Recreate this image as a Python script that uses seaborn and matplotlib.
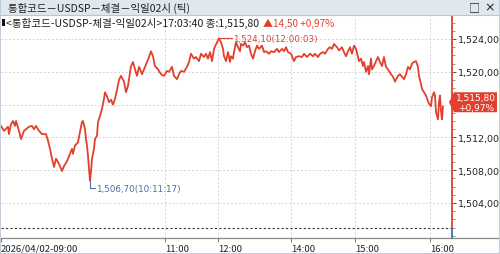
import numpy as np
import matplotlib
matplotlib.use("Agg")
import matplotlib.pyplot as plt
import seaborn as sns
from matplotlib.patches import Rectangle, Polygon
from matplotlib.lines import Line2D
from matplotlib.ticker import FixedLocator, MultipleLocator, FuncFormatter

# ---------------- data ----------------
tick_idx = [0, 3, 7, 8, 10, 12, 14, 15, 18, 20, 23, 25, 28, 31, 33, 35, 38, 41, 45, 47,
            49, 51, 53, 55, 57, 59, 61, 63, 66, 69, 71, 72, 74, 77, 79, 81, 82, 84, 85, 86,
            87, 88, 89, 90, 91, 93, 94, 96, 97, 99, 101, 103, 104, 106, 108, 110, 112, 114, 116, 118,
            120, 123, 125, 127, 130, 132, 134, 136, 138, 141, 143, 146, 148, 150, 152, 154, 157, 160, 163, 166,
            168, 171, 173, 176, 178, 180, 183, 186, 188, 190, 193, 195, 198, 200, 203, 205, 207, 209, 211, 213,
            216, 218, 220, 222, 223, 225, 227, 229, 230, 232, 233, 235, 237, 239, 240, 242, 244, 246, 248, 250,
            252, 254, 256, 258, 261, 263, 265, 268, 270, 273, 276, 278, 281, 283, 285, 287, 290, 293, 295, 298,
            301, 303, 306, 309, 312, 314, 317, 319, 322, 324, 327, 329, 331, 333, 336, 338, 341, 343, 345, 347,
            349, 351, 353, 355, 357, 358, 360, 362, 363, 365, 367, 368, 370, 371, 373, 375, 377, 379, 381, 383,
            385, 388, 390, 392, 394, 397, 399, 401, 403, 405, 407, 409, 411, 413, 415, 417, 418, 420, 421, 423,
            425, 427, 428, 430, 431, 433, 434, 435, 437, 438, 439, 440, 441, 442]
price = [1513.4, 1512.8, 1513.3, 1512.4, 1513.6, 1514.0, 1513.4, 1514.0, 1512.8, 1511.8,
         1512.8, 1513.0, 1513.3, 1513.4, 1513.0, 1513.4, 1512.8, 1512.4, 1512.4, 1511.6,
         1510.6, 1509.4, 1508.4, 1509.4, 1509.0, 1508.5, 1507.9, 1508.5, 1509.1, 1510.0,
         1510.6, 1510.0, 1511.0, 1511.4, 1512.7, 1513.9, 1514.0, 1513.0, 1511.8, 1511.0,
         1509.7, 1508.2, 1506.7, 1507.8, 1509.4, 1510.6, 1511.8, 1512.2, 1513.9, 1514.6,
         1515.5, 1516.7, 1517.5, 1517.0, 1516.3, 1516.6, 1516.0, 1516.7, 1517.8, 1519.0,
         1519.5, 1518.8, 1517.5, 1518.3, 1520.7, 1521.2, 1520.3, 1519.5, 1520.6, 1519.7,
         1520.3, 1521.2, 1521.8, 1522.5, 1521.9, 1520.7, 1520.3, 1519.7, 1519.5, 1520.1,
         1520.0, 1520.6, 1519.5, 1519.1, 1519.7, 1520.1, 1520.0, 1520.6, 1521.2, 1522.2,
         1521.6, 1521.8, 1521.3, 1522.2, 1521.8, 1522.2, 1521.6, 1522.4, 1521.3, 1522.8,
         1523.6, 1524.1, 1523.6, 1522.8, 1521.9, 1521.3, 1522.4, 1521.2, 1521.9, 1521.6,
         1522.4, 1523.6, 1523.0, 1522.5, 1523.4, 1523.2, 1523.6, 1523.0, 1523.2, 1522.2,
         1521.6, 1522.5, 1523.2, 1522.8, 1523.2, 1522.4, 1522.5, 1522.2, 1522.5, 1522.4,
         1522.8, 1522.4, 1522.8, 1522.5, 1523.0, 1522.4, 1522.2, 1521.3, 1521.8, 1521.9,
         1521.8, 1522.2, 1521.8, 1522.2, 1521.9, 1522.2, 1521.8, 1522.2, 1522.4, 1522.2,
         1522.8, 1523.0, 1522.8, 1523.4, 1523.0, 1522.6, 1523.0, 1522.4, 1521.9, 1522.5,
         1523.0, 1522.2, 1523.2, 1522.8, 1521.8, 1521.3, 1521.6, 1520.7, 1521.2, 1520.0,
         1520.7, 1519.7, 1521.6, 1520.3, 1520.7, 1521.3, 1521.8, 1521.2, 1520.7, 1521.8,
         1520.6, 1520.1, 1519.7, 1519.4, 1518.8, 1519.5, 1519.7, 1519.4, 1519.1, 1519.7,
         1520.6, 1520.3, 1521.0, 1521.2, 1521.3, 1520.6, 1519.5, 1518.5, 1517.9, 1517.5,
         1517.1, 1516.4, 1516.1, 1515.8, 1516.9, 1517.5, 1517.1, 1515.1, 1514.2, 1516.3,
         1517.1, 1515.2, 1514.2, 1515.8]

xtick_pos = [0, 164, 217, 290, 354, 429]
xtick_labels = ["2026/04/02-09:00", "11:00", "12:00", "14:00", "15:00", "16:00"]
ytick_vals = [1504, 1508, 1512, 1516, 1520, 1524]
high_time = "12:00:03"
low_time = "10:11:17"
last_price = 1515.80
change = 14.50
change_pct = 0.97
title = "통합코드－USDSP－체결－익일02시 (틱)"
info_black = "<통합코드-USDSP-체결-익일02시>17:03:40 종:1,515,80"
info_red = "▲14,50 +0,97%"

# ---------------- style ----------------
sns.set_theme(style="white")
plt.rcParams['font.family'] = ['Noto Sans CJK KR', 'DejaVu Sans']

W, H = 500, 255
fig = plt.figure(figsize=(W / 100, H / 100), dpi=100)
fig.patch.set_facecolor("white")

def fx(x):
    return x / W

def fy(y):
    return 1 - y / H

RED = "#e2402c"
BLUE = "#4a6ea8"

def kfmt(v):
    return f"{v:,.2f}".replace(".", ",")

# axes: pixel box x 1..452, y 17..239
ax_left, ax_right, ax_top, ax_bot = 1, 452, 17, 239
ax = fig.add_axes([fx(ax_left), fy(ax_bot), (ax_right - ax_left) / W, (ax_bot - ax_top) / H])
ax.set_facecolor("white")

sns.lineplot(x=tick_idx, y=price, ax=ax, color=RED, linewidth=1.3, sort=False)

px_per_unit = 8.2
ax.set_xlim(0, ax_right - ax_left)
y_top = 1524 + (40 - ax_top) / px_per_unit
y_bot = 1524 - (ax_bot - 40) / px_per_unit
ax.set_ylim(y_bot, y_top)

# grid
for v in ytick_vals:
    ax.axhline(v, color="#d4d4d4", lw=0.7, ls=(0, (2, 2)), zorder=0)
for p in xtick_pos[1:]:
    ax.axvline(p, color="#d4d4d4", lw=0.7, ls=(0, (2, 2)), zorder=0)
# dotted black border line above time axis
ax.axhline(1524 - (229 - 40) / px_per_unit, color="#333333", lw=0.8, ls=(0, (2, 2)))

# y axis on the right
ax.yaxis.tick_right()
ax.yaxis.set_major_locator(FixedLocator(ytick_vals))
ax.yaxis.set_minor_locator(MultipleLocator(1))
ax.yaxis.set_major_formatter(FuncFormatter(lambda v, p: "" if abs(v - 1516) < 1e-6 else kfmt(v)))
ax.tick_params(axis="y", which="major", direction="out", length=3, width=0.7, color="#555555",
               labelsize=6.8, labelcolor="#222222", pad=1, right=True, left=False)
ax.tick_params(axis="y", which="minor", direction="out", length=2, width=0.6, color="#888888",
               right=True, left=False)
for lab in ax.get_yticklabels():
    lab.set_family(['DejaVu Sans'])

# x axis
ax.set_xticks(xtick_pos)
ax.set_xticklabels(xtick_labels, ha="left")
ax.tick_params(axis="x", direction="out", length=3, width=0.7, color="#777777",
               labelsize=6.8, labelcolor="#222222", pad=1, bottom=True)
ax.set_xlabel("")
ax.set_ylabel("")

for s in ["top", "left"]:
    ax.spines[s].set_visible(False)
ax.spines["bottom"].set_color("#8a8a8a")
ax.spines["bottom"].set_linewidth(0.9)
ax.spines["right"].set_color(RED)
ax.spines["right"].set_linewidth(1.3)
ax.spines["right"].set_bounds(1524 - (229 - 40) / px_per_unit, y_top)

# extend time-axis line to the right edge, blue segment below current line
fig.add_artist(Line2D([fx(ax_right), fx(W)], [fy(ax_bot), fy(ax_bot)], color="#8a8a8a", lw=0.9))
fig.add_artist(Line2D([fx(ax_right + 0.3), fx(ax_right + 0.3)], [fy(229), fy(ax_bot)], color=BLUE, lw=1.3))

# high / low annotations
p = np.array(price)
hi_i, lo_i = int(np.argmax(p)), int(np.argmin(p))
hx, hy = tick_idx[hi_i], p[hi_i]
lx, ly = tick_idx[lo_i], p[lo_i]
ax.plot([hx + 1, hx + 13], [hy, hy], color=RED, lw=0.8)
ax.text(hx + 14, hy, f"{kfmt(hy)}({high_time})", color="#d0483a", fontsize=6.3,
        va="center", ha="left", family=['DejaVu Sans'])
ax.plot([lx, lx, lx + 5], [ly, ly - 0.9, ly - 0.9], color=BLUE, lw=0.8)
ax.text(lx + 6, ly - 0.95, f"{kfmt(ly)}({low_time})", color=BLUE, fontsize=6.3,
        va="center", ha="left", family=['DejaVu Sans'])

# current price box
box_y = 40 + (1524 - last_price) * px_per_unit - 4
pts = [(449, box_y), (454, box_y - 10), (497, box_y - 10), (497, box_y + 10), (454, box_y + 10)]
fig.add_artist(Polygon([(fx(a), fy(b)) for a, b in pts], closed=True, facecolor=RED,
                       edgecolor="none", zorder=10))
fig.text(fx(476), fy(box_y - 4.5), kfmt(last_price), color="white", fontsize=6.5,
         ha="center", va="center", zorder=11, family=['DejaVu Sans'])
fig.text(fx(476), fy(box_y + 5), f"+{change_pct:.2f}%".replace(".", ","), color="white",
         fontsize=6.5, ha="center", va="center", zorder=11, family=['DejaVu Sans'])

# title bar
fig.add_artist(Rectangle((0, fy(16)), 1, 16 / H, transform=fig.transFigure,
                         facecolor="#dfe7ef", edgecolor="none", zorder=5))
fig.add_artist(Line2D([0, 1], [fy(16), fy(16)], color="#b9c6d3", lw=0.8, zorder=6))
fig.text(fx(8), fy(8), title, fontsize=7.5, color="#1e1e1e", va="center", ha="left", zorder=7)
fig.text(fx(469), fy(8), "□", fontsize=8, color="#222222", va="center", ha="left", zorder=7)
fig.text(fx(484), fy(8), "×", fontsize=9, color="#222222", va="center", ha="left", zorder=7,
         family=['DejaVu Sans'])

# info line
fig.add_artist(Rectangle((fx(2), fy(27)), 3 / W, 7 / H, transform=fig.transFigure,
                         facecolor="#111111", edgecolor="none", zorder=7))
fig.text(fx(6), fy(23.5), info_black, fontsize=7.6, color="#1e1e1e", va="center", ha="left", zorder=7)
fig.text(fx(263), fy(23.5), info_red, fontsize=7.2, color=RED, va="center", ha="left", zorder=7)

# outer frame
fig.add_artist(Rectangle((0, 0), 1, 1, transform=fig.transFigure, facecolor="none",
                         edgecolor="#b9c6d3", lw=1.2, zorder=20))

fig.savefig("out.png", dpi=100)
